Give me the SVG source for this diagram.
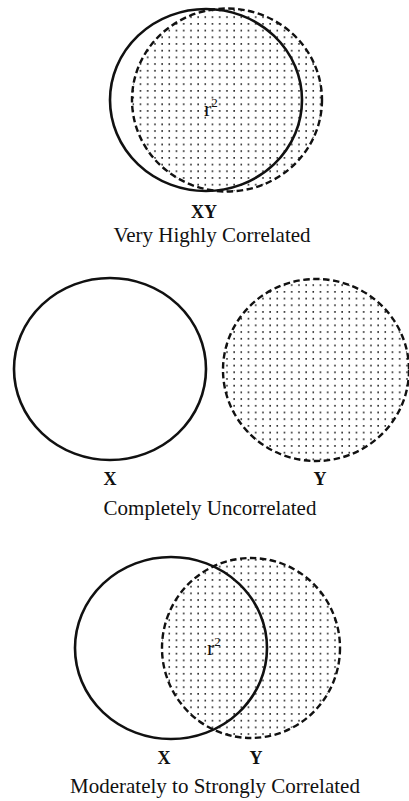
<svg xmlns="http://www.w3.org/2000/svg" width="409" height="801" viewBox="0 0 409 801">
<defs>
<pattern id="dots" width="7.2" height="6.7" patternUnits="userSpaceOnUse">
<rect x="3" y="3" width="1.5" height="1.5" fill="#000"/>
</pattern>
</defs>
<style>
.solid{fill:none;stroke:#111;stroke-width:2.6}
.dash{fill:url(#dots);stroke:#111;stroke-width:2.4;stroke-dasharray:6.5,3.5}
.lbl{font-family:"Liberation Serif","Times New Roman",serif;font-size:21px;fill:#111;text-anchor:middle}
.r2{font-family:"Liberation Serif","Times New Roman",serif;font-size:22px;fill:#111}
.b{font-weight:bold;font-size:18px}
</style>
<rect width="409" height="801" fill="#fff"/>
<g id="top">
<ellipse class="dash" cx="227" cy="100" rx="95" ry="91.5"/>
<ellipse class="solid" cx="206" cy="100" rx="96" ry="91"/>
<text class="r2" x="204" y="116">r<tspan font-size="13" dy="-9">2</tspan></text>
<text class="lbl b" x="204" y="218">XY</text>
<text class="lbl" x="212" y="242">Very Highly Correlated</text>
</g>
<g id="middle">
<ellipse class="solid" cx="110" cy="369" rx="96" ry="91"/>
<ellipse class="dash" cx="316" cy="370" rx="93" ry="91"/>
<text class="lbl b" x="110" y="485">X</text>
<text class="lbl b" x="320" y="485">Y</text>
<text class="lbl" x="210" y="515">Completely Uncorrelated</text>
</g>
<g id="bottom">
<ellipse class="dash" cx="251" cy="648" rx="89" ry="90"/>
<ellipse class="solid" cx="171" cy="648" rx="96" ry="91"/>
<text class="r2" x="207" y="655">r<tspan font-size="13" dy="-9">2</tspan></text>
<text class="lbl b" x="164" y="764">X</text>
<text class="lbl b" x="256" y="764">Y</text>
<text class="lbl" x="215" y="793">Moderately to Strongly Correlated</text>
</g>
</svg>
